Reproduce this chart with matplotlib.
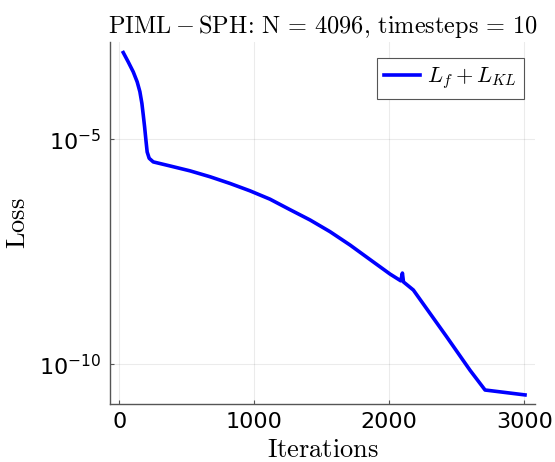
import matplotlib
matplotlib.use('Agg')
import matplotlib.pyplot as plt
from matplotlib.ticker import FixedLocator, NullLocator

# values (iteration, loss)
iterations = [30, 67, 104, 133, 153, 168, 178, 188, 198, 207, 222, 252,
              376, 524, 672, 820, 968, 1116, 1264, 1413, 1561, 1709, 1857,
              2005, 2085, 2097, 2105, 2178, 2425, 2598, 2709, 3005]
loss = [8.5e-4, 5.25e-4, 3.16e-4, 1.9e-4, 1.15e-4, 6.3e-5, 3.5e-5, 1.9e-5,
        9.5e-6, 5.25e-6, 3.8e-6, 3.16e-6, 2.57e-6, 2.0e-6, 1.48e-6, 1.05e-6,
        7.2e-7, 4.7e-7, 2.75e-7, 1.62e-7, 8.9e-8, 4.5e-8, 2.14e-8, 1.02e-8,
        7.2e-9, 1.07e-8, 6.8e-9, 4.5e-9, 4.1e-10, 7.4e-11, 2.7e-11, 2.1e-11]

x_ticks = [0, 1000, 2000, 3000]
y_ticks = [1e-10, 1e-5]
y_tick_labels = [r'$10^{-10}$', r'$10^{-5}$']

title = (r'$\mathrm{PIML} - \mathrm{SPH}\!:\,\mathrm{N}\,=\,4096'
         r'\mathrm{,\,timesteps}\,=\,10$')
series_label = r'$L_f + L_{KL}$'

plt.rcParams['mathtext.fontset'] = 'dejavusans'

fig = plt.figure(figsize=(5.55, 4.62), dpi=100)
ax = fig.add_axes([0.198, 0.1255, 0.766, 0.7842])

ax.plot(iterations, loss, color='#0000ff', lw=2.6, label=series_label)

ax.set_yscale('log')
ax.set_xlim(-69, 3079)
ax.set_ylim(10 ** -10.88, 10 ** -2.83)

ax.xaxis.set_major_locator(FixedLocator(x_ticks))
ax.yaxis.set_major_locator(FixedLocator(y_ticks))
ax.yaxis.set_minor_locator(NullLocator())
ax.set_yticklabels(y_tick_labels)

ax.grid(True, color='#000000', alpha=0.08, lw=0.8)
for s in ['top', 'right']:
    ax.spines[s].set_visible(False)
for s in ['left', 'bottom']:
    ax.spines[s].set_color('#555555')
    ax.spines[s].set_linewidth(1.0)
ax.tick_params(direction='in', length=3, width=0.8, color='#555555',
               labelsize=16, pad=6)

ax.set_title(title, fontsize=17.5, math_fontfamily='cm', pad=6)
ax.set_xlabel(r'$\mathrm{Iterations}$', fontsize=19, math_fontfamily='cm',
              labelpad=3)
ax.set_ylabel(r'$\mathrm{Loss}$', fontsize=19, math_fontfamily='cm',
              labelpad=6)

leg = ax.legend(loc='upper right', bbox_to_anchor=(1.0, 0.987),
                fancybox=False, edgecolor='#555555', framealpha=1,
                prop={'size': 16, 'math_fontfamily': 'cm'},
                handlelength=1.6, handletextpad=0.3, borderpad=0.35)
leg.get_frame().set_linewidth(0.8)

fig.savefig('out.png', dpi=100)
